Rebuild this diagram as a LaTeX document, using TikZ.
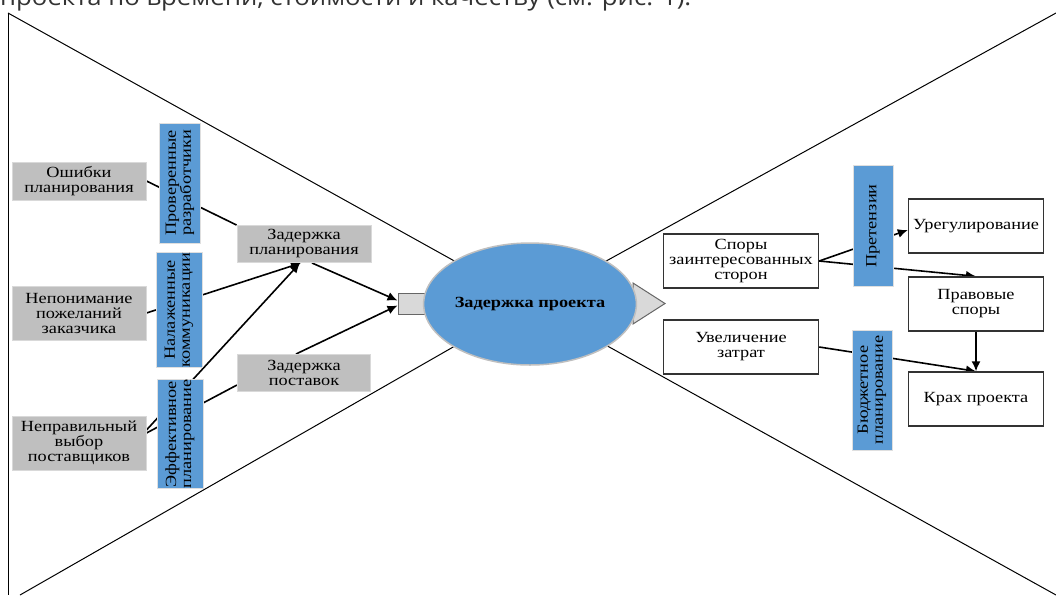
\documentclass[tikz,border=0pt]{standalone}
\usepackage{fontspec}
\setmainfont{Liberation Serif}[FakeStretch=1.18]
\newfontfamily\topfont{Open Sans}[FakeStretch=1.1]
\usetikzlibrary{positioning,shapes.geometric,arrows.meta}
\pgfdeclarelayer{background layer}
\pgfsetlayers{background layer,main}
\definecolor{blueb}{HTML}{5B9BD5}
\definecolor{grayb}{HTML}{BFBFBF}
\definecolor{lightb}{HTML}{D9D9D9}

\begin{document}
\begin{tikzpicture}[x=1pt,y=-1pt,font=\fontsize{15.5}{15}\selectfont,
  cause/.style={rectangle,fill=grayb,draw=lightb,line width=1pt,inner sep=0pt,align=center,minimum width=134},
  remedy/.style={rectangle,fill=blueb,draw=white!75!gray,line width=1pt,inner sep=0pt,align=center,rotate=90},
  result/.style={rectangle,fill=white,draw=black!80,line width=1.4pt,inner sep=0pt,align=center,minimum height=54},
  link/.style={line width=1.6pt},
  arr/.style={link,-{Latex[length=10pt,width=9pt]}}]
\useasboundingbox (0,0) rectangle (1056,595);

% text line cut off by the page edge
\node (toptext) [anchor=base west,inner sep=0pt,text=black!80,font=\topfont\fontsize{23.4}{23.4}\selectfont] at (0,5.5) {проекта по времени, стоимости и качеству (см. рис. 1).};

% causes
\node (err) [cause,minimum height=38] at (79,181) {Ошибки\\планирования};
\node (cust) [cause,minimum height=54] at (79,313) {Непонимание\\пожеланий\\заказчика};
\node (supp) [cause,minimum height=54] at (79,443) {Неправильный\\выбор\\поставщиков};
\node (plan) [cause,minimum height=37] at (304,244) {Задержка\\планирования};
\node (deliv) [cause,minimum height=37,minimum width=133] at (304,373) {Задержка\\поставок};

\node (dev) [remedy,minimum width=120,minimum height=41] at (180,183) {Проверенные\\разработчики};
\node (comm) [remedy,minimum width=115,minimum height=46] at (179,310) {Налаженные\\коммуникации};
\node (eff) [remedy,minimum width=105,minimum height=46] at (180,434) {Эффективное\\планирование};

% centre
\node (inblk) [rectangle,fill=lightb,draw=black!60,line width=1pt,minimum width=42,minimum height=21] at (419,303.5) {};
\node (delay) [ellipse,fill=blueb,draw=grayb,line width=1.5pt,minimum width=194,minimum height=122,inner sep=0pt] at (530,304) {\bfseries Задержка проекта};

% effects
\node (disp) [result,minimum width=155] at (741,261) {Споры\\заинтересованных\\сторон};
\node (cost) [result,minimum width=155] at (741,347) {Увеличение\\затрат};
\node (claim) [remedy,minimum width=121,minimum height=40] at (873,226) {Претензии};
\node (budget) [remedy,minimum width=120,minimum height=40] at (872,390) {Бюджетное\\планирование};
\node (settle) [result,minimum width=135] at (976,226) {Урегулирование};
\node (legal) [result,minimum width=135] at (976,304) {Правовые\\споры};
\node (crash) [result,minimum width=135] at (976,399) {Крах проекта};

\begin{pgfonlayer}{background layer}
\draw [line width=1pt] (8,13) -- (8,595);
\draw [line width=1pt] (8,13) -- (530,303) -- (20,595);
\draw [line width=1pt] (1056,13) -- (530,303) -- (1056,595);
\draw [fill=lightb,draw=black!60,line width=1pt] (600,293) -- (633,293) -- (633,283) -- (665,303.5) -- (633,324) -- (633,314) -- (600,314) -- cycle;

\draw [link] (err.east) -- (plan.north west);
\draw [arr] (cust.east) -- ([xshift=-3pt]plan.south);
\draw [arr] ([yshift=13pt]supp.east) -- ([xshift=-4pt]plan.south);
\draw [link] ([yshift=10pt]supp.east) -- ([yshift=-12pt]deliv.west);
\draw [arr] ([xshift=8pt]plan.south) -- ([yshift=3pt]inblk.west);
\draw [arr] ([xshift=-8pt]deliv.north) -- ([yshift=-2pt]inblk.west);

\draw [arr] (disp.east) -- ([yshift=-4pt]settle.west);
\draw [arr] (disp.east) -- (legal.north);
\draw [arr] (legal.south) -- (crash.north);
\draw [arr] (cost.east) -- (crash.north);
\end{pgfonlayer}
\end{tikzpicture}
\end{document}
